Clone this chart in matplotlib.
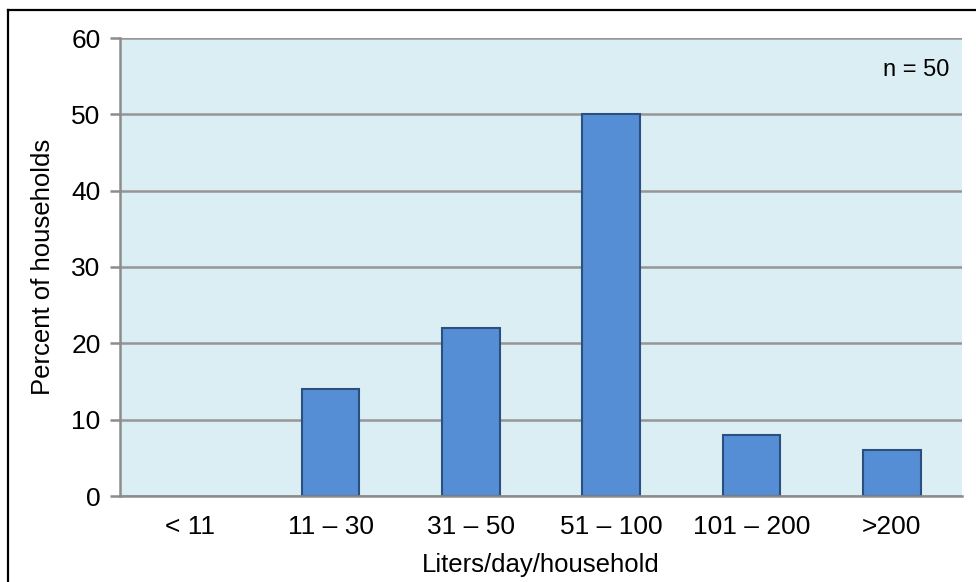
import numpy as np
import matplotlib.pyplot as plt
from matplotlib.lines import Line2D

categories = ['< 11', '11 – 30', '31 – 50', '51 – 100', '101 – 200', '>200']
percent = [0, 14, 22, 50, 8, 6]

plt.rcParams['font.family'] = ['Liberation Sans', 'DejaVu Sans']

fig = plt.figure(figsize=(9.76, 5.82), dpi=100)
ax = fig.add_axes([120 / 976, 1 - 496 / 582, 842 / 976, 458 / 582])
ax.set_facecolor('#dbeef3')

x = np.arange(len(categories))
vals = np.array(percent, dtype=float)
# zero-height bars would leave a stray outline on the axis
mask = vals > 0
ax.bar(x[mask], vals[mask], width=0.41, color='#558ed5', edgecolor='#2a4f80',
       linewidth=1.5, zorder=3)

ax.set_xlim(-0.5, len(categories) - 0.5)
ax.set_ylim(0, 60)
ax.set_yticks(range(0, 61, 10))
ax.set_xticks(x)
ax.set_xticklabels(categories)
ax.yaxis.grid(True, color='#969696', linewidth=1.8, zorder=1)
ax.set_axisbelow(True)

for side in ('top', 'right'):
    ax.spines[side].set_visible(False)
for side in ('left', 'bottom'):
    ax.spines[side].set_color('#8c8c8c')
    ax.spines[side].set_linewidth(1.8)
    ax.spines[side].set_zorder(4)

ax.tick_params(axis='y', length=7, width=1.8, color='#8c8c8c',
               labelsize=19, pad=7)
ax.tick_params(axis='x', length=0, labelsize=19, pad=14)

ax.set_xlabel('Liters/day/household', fontsize=18.5, labelpad=10)
ax.set_ylabel('Percent of households', fontsize=18.5, labelpad=12)

ax.text(0.985, 0.93, 'n = 50', transform=ax.transAxes, ha='right',
        va='center', fontsize=17)

# outer frame of the figure (only top and left edges fall inside the image)
fig.add_artist(Line2D([8 / 976, 8 / 976], [0, 1 - 10 / 582],
                      transform=fig.transFigure, color='black', linewidth=1.6))
fig.add_artist(Line2D([8 / 976, 1], [1 - 10 / 582, 1 - 10 / 582],
                      transform=fig.transFigure, color='black', linewidth=1.6))

fig.savefig('out.png', dpi=100)
